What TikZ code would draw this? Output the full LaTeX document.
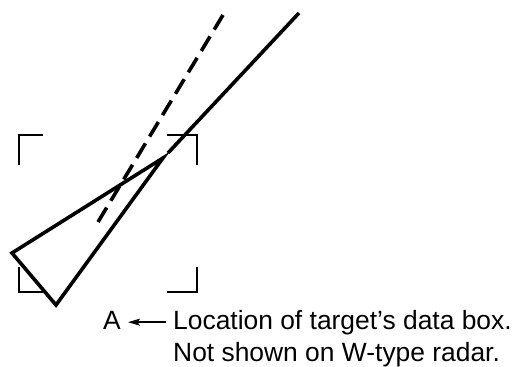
\documentclass[tikz,border=0pt]{standalone}
\usepackage{fontspec}
\setmainfont{Liberation Sans}
\usetikzlibrary{arrows.meta}
\begin{document}
\begin{tikzpicture}[x=1pt,y=-1pt,
  heavy/.style={line width=3.6pt},
  bracket/.style={line width=2.5pt,line join=miter},
  label/.style={inner sep=0pt,anchor=base west,font=\fontsize{26.4}{32}\selectfont},
  pointer/.style={line width=1.6pt,-{Stealth[length=12pt,width=7pt,inset=2.5pt]}}]
\useasboundingbox (0,0) rectangle (512,367);
% corner brackets
\draw[bracket] (19,165) -- (19,135) -- (43,135);
\draw[bracket] (167,135) -- (197,135) -- (197,165);
\draw[bracket] (19,267) -- (19,292) -- (43,292);
\draw[bracket] (167,292) -- (197,292) -- (197,267);
% lines
\draw[heavy,dash pattern=on 17pt off 8pt] (223,15) -- (98,222);
\draw[heavy] (299,13) -- (168,153);
% triangle
\draw[heavy,line join=miter] (163,158) -- (12,253) -- (56,305) -- cycle;
% texts
\node[label] (A) at (103,329) {A};
\node[label] (l1) at (173,329) {Location of target’s data box.};
\node[label] (l2) at (173,361) {Not shown on W-type radar.};
\draw[pointer] ([xshift=-7pt]l1.west) -- ([xshift=7pt]A.east |- l1.west);
\end{tikzpicture}
\end{document}
